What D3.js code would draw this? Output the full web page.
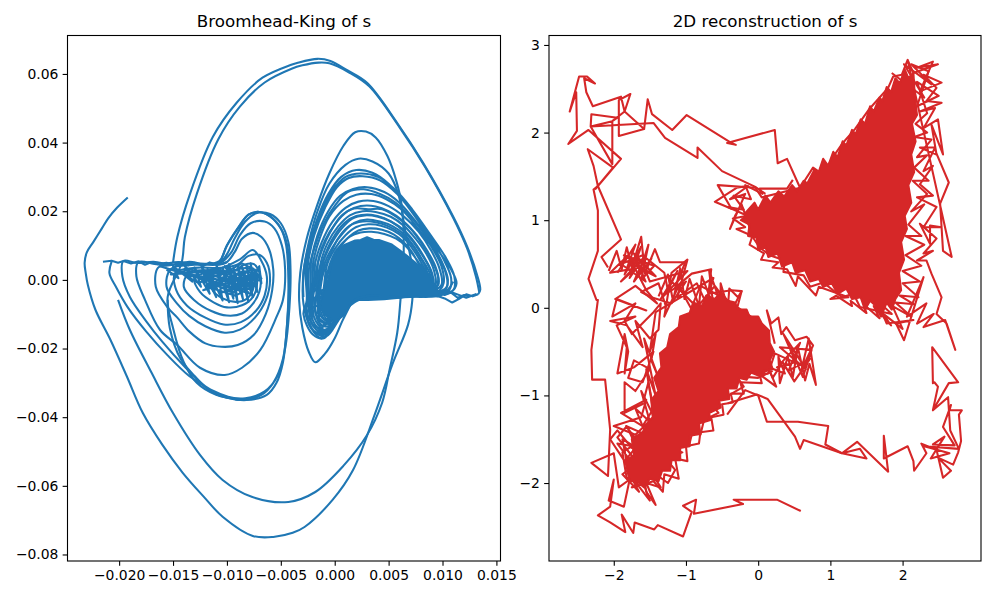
<!DOCTYPE html>
<html lang="en">
<head>
<meta charset="UTF-8" />
<title>Broomhead-King and 2D reconstruction of s</title>
<script src="https://d3js.org/d3.v7.min.js"></script>
<style>
  html, body { margin: 0; background: #fff; }
  text { font-family: "DejaVu Sans", sans-serif; fill: #000; }
  .tick text { font-size: 13.9px; }
  .tick line, .domain { stroke: #000; stroke-width: 1.1px; }
  .title { font-size: 16.7px; text-anchor: middle; }
  .frame { fill: none; stroke: #000; stroke-width: 1.1px; }
  .trace { fill: none; stroke-width: 2.08px; stroke-linejoin: round; }
</style>
</head>
<body>
<svg id="fig" width="1000" height="600"></svg>
<script>
// left panel values are in thousandths
const bkXTicks = [-20, -15, -10, -5, 0, 5, 10, 15];
const bkYTicks = [60, 40, 20, 0, -20, -40, -60, -80];
const recXTicks = [-2, -1, 0, 1, 2];
const recYTicks = [3, 2, 1, 0, -1, -2];

const bkOuter = [[-19.2,24],[-20.2,21],[-21,18],[-21.6,15],[-22.4,11],[-23,8],[-23.2,5],[-23.1,2],[-22.9,-1.5],[-22.2,-8.7],[-20.8,-17.5],[-19.3,-28],[-17.8,-38.8],[-16,-48],[-14.1,-56.2],[-12.2,-63],[-10.4,-69],[-7.6,-74.6],[-5.7,-74.9],[-3.9,-73.7],[-2.8,-72],[-.2,-64.1],[1.7,-55.4],[3.7,-39.3],[5.4,-24.2],[6.8,-13.1],[7.2,-5.8],[7.2,3],[6.5,15],[5.9,25],[5,31],[3.5,34.5],[2.2,35.3],[1,33.5],[-.5,28],[-1.6,20],[-2.4,11],[-2.9,2],[-2.9,-7],[-2.2,-14],[-1.2,-17],[-.2,-14],[1,-8],[2,-5.4],[4,-4.6],[7,-4.4],[9,-4],[10.4,-3],[11,-.5]];
const bkSecond = [[-20.1,-5.8],[-19,-14.6],[-17,-27],[-15,-38.8],[-12.5,-51],[-10.4,-58.3],[-7.7,-63.2],[-4.3,-64.7],[-1.8,-61.8],[.8,-54.2],[3,-45.2],[4.4,-35.8],[5.1,-26],[5.8,-15.4],[6.1,-5.8],[6.4,8],[6.2,22],[5.7,29],[4.9,36],[3.8,41.5],[2.9,43.2],[1.9,43],[.8,39],[-.5,31],[-1.6,22],[-2.6,12],[-3.2,2],[-3.3,-6],[-3,-14],[-2.4,-21],[-1.8,-24],[-.9,-21.5],[0,-17],[.7,-12],[1.5,-7]];
const bkTopArc = [[-15,5],[-14.6,12.5],[-13.4,25.3],[-11.3,41.7],[-9.1,51.6],[-6.7,58.9],[-4.1,62.6],[-3.5,63.2],[-1.6,64.4],[-.4,63.8],[1.2,61],[3,57.4],[5.8,45.7],[8.2,34.1],[11,18.4],[12.3,9.6],[13.2,1.5],[13.5,-2.9],[13.3,-4.2]];
const bkTopArc2 = [[-8.7,-35],[-11,-33.5],[-12.8,-30],[-14,-24],[-15,-14],[-15.5,-5],[-14.2,5],[-13.9,12.5],[-12.8,25],[-10.8,41],[-8.8,50.5],[-6.5,57.5],[-4,61.5],[-3,62.5],[-1.5,63.3],[-.5,63.1],[1.3,60.5],[3.2,56.4],[6,44.5],[8.4,32.8],[11,18],[12.3,9],[13.1,1],[13.4,-3.5]];
const bkBottomArc = [[-15.5,-5.8],[-15.3,-14],[-14.3,-23],[-13,-28],[-11.5,-32.5],[-10,-34.3],[-8.2,-35],[-6.3,-33.5],[-5.4,-30],[-4.8,-24],[-4.4,-12],[-4.2,0],[-4.4,10],[-5,15],[-6,18.5],[-7,19.8],[-8,19],[-9,15],[-10,10],[-10.5,6]];
const bkBand = [[-21.5,5.3],[-20.7,5.6],[-20.1,5],[-19.6,5.5],[-18.9,4.8],[-18.2,5.4],[-17.6,4.4],[-17,5.2],[-16.4,4.6],[-15.6,5],[-15,4.4],[-14.3,5.1],[-13.6,4.2],[-13,5],[-12.2,4],[-11.6,5.1],[-10.8,4.4],[-10,5.2]];
const bkFoot = [[13.3,-4.2],[12.8,-4.8],[12.2,-4.2],[11.5,-5.6],[10.9,-6.6],[10.2,-5.4],[9.6,-4.8],[8.9,-4.3],[8.4,-5],[9.6,-3.6],[10.2,-4.4],[10.8,-3.7],[11.4,-5.2],[12,-4.4],[12.6,-4.7],[13.1,-4.2],[12.2,-5.2],[11.2,-4],[10.4,-3],[9.8,-4.7]];

const bkLeftLobe = [
  [-20.7,5.3],[-20.9,2],[-20.3,-2],[-19.2,-8],[-17.5,-15],[-15.5,-22],[-13.5,-28],[-11.5,-32],[-9.5,-34.5],[-8.7,-35],[-6.8,-33.5],[-5.7,-30],[-4.8,-23],[-4.4,-12],[-4.3,0],[-4.5,10],[-5,15],[-6,18.5],[-7,19.8],[-8,19],[-9,15],[-10,10],[-10.7,5.5],
  [-12,4.6],[-13.5,5.3],[-15,4.4],[-16.8,5.3],[-18.3,4.9],[-19.6,5.5],
  [-19.7,1],[-19,-5],[-17.5,-12],[-16,-18],[-14,-25],[-12,-31],[-10,-34],[-8.3,-34.5],[-6.5,-32.5],[-5.3,-28],[-4.6,-20],[-4.2,-8],[-4.1,3],[-4.3,11],[-5,16.5],[-6,19.2],[-7.2,19.5],[-8.3,17],[-9.3,12],[-10,7.5],[-10.7,5],
  [-12.5,4.4],[-14.5,5.2],[-16.4,4.5],[-18.2,5.2],
  [-18.4,1],[-17.6,-5.8],[-16.2,-14.6],[-14.6,-19],[-12.5,-25.6],[-10.2,-27.7],[-8.6,-25.6],[-6.9,-20.4],[-5.4,-10.8],[-4.8,-5.8],[-4.6,3],[-4.9,10],[-5.6,15],[-6.5,17],[-7.8,16.5],[-8.8,13],[-9.6,8],[-10.6,5],
  [-13,4.8],[-15.5,4.2],[-16.4,3.5],
  [-16.6,-2],[-15.5,-8],[-14.6,-11],[-13.5,-15],[-12,-18.5],[-10.5,-19.5],[-9,-19],[-7.5,-16],[-6.4,-10],[-5.8,-3],[-5.7,3],[-6.1,9],[-6.8,12.5],[-7.6,13.7],[-8.6,12],[-9.3,8],[-10.2,4.8],
  [-13,4.4],[-15.2,3.2],[-15.6,-2],[-14.6,-7],[-13.5,-10.5],[-12,-13.5],[-10.2,-15.4],[-8.8,-14.5],[-7.4,-11],[-6.4,-6],[-6,0],[-6.3,5],[-7,7.3],[-8,7],[-9,4.5],[-10.6,3.5],
  [-13,3.5],[-14.8,2],[-14.7,-3],[-13.7,-7.5],[-12,-11],[-10.3,-13],[-8.7,-12.3],[-7.3,-9],[-6.5,-4.5],[-6.3,1],[-6.8,5.5],[-7.6,8.7],[-8.8,6],
  [-11,3],[-13.5,2.2],[-14,-2],[-13,-6],[-11.5,-9],[-10,-10.4],[-8.6,-9.8],[-7.6,-7],[-7,-3.5],[-6.9,1],[-7.5,4.6],[-8.4,4.4],[-9.4,2.6],
  [-11.5,2.4],[-13,.5],[-12.5,-3.5],[-11.2,-6.6],[-10,-8],[-8.6,-7.4],[-7.6,-5],[-7.2,-1],[-7.5,2.8],[-8.5,3.4],[-10,2],
  [-11.4,.6],[-11.4,-2.6],[-10.4,-5.4],[-9.2,-6.4],[-8.2,-5.6],[-7.6,-3],[-7.5,.5],[-8,2.4],[-9,2]
];
const bkLeftCore = [[-15.6,3],[-14.5,.5],[-15,4],[-13.2,-.5],[-14,4.6],[-12.4,-2],[-13,3.6],[-11.6,-4],[-12.4,4.4],[-11,-5],[-11.8,3.2],[-10.4,-6],[-11,4.6],[-9.8,-6.5],[-10.4,3.6],[-9.4,-5.5],[-9.8,4.6],[-9,-6.8],[-9.4,3.6],[-8.5,-5.8],[-9,4.4],[-8,-6.4],[-8.6,3.8],[-7.6,-5],[-8.2,4.2],[-7.6,-2.5],[-7.8,4.8],[-7.2,-3.5],[-7.4,3],[-6.8,-1],[-7,4],[-8.4,-3.5],[-10.6,3],[-12.6,-1],[-14.5,2.6],[-12,.5],[-9.5,-2.5],[-7.8,.5],[-10.5,-3.8],[-13,1.4],[-9.6,-.6],[-11.4,1.5],[-8.8,-1.5],[-7.4,1.8],[-10,-1],[-12.2,-3],[-9.4,1],[-7.9,-4],[-16.2,4],[-14,1.8],[-11.2,3],[-9,-.4],[-7.2,2.6],[-8.6,4.8],[-10.8,1],[-13.4,3],[-15.2,1.6],[-12.8,2.2],[-10.2,2.6],[-8.2,1.2],[-9.4,-3.8],[-11.4,-1],[-8.6,-2.8],[-6.8,.4],[-7.6,3.4],[-10.2,-2.2],[-8,-1],[-9.8,1.8],[-11.8,-2],[-9.2,-4.6],[-7.4,-1.6],[-9,2.8],[-12,1.6],[-10.6,-.4],[-8.4,.2],[-10.2,4],[-8.8,-3.4],[-7,1.4]];

const bkRightLobe = [
  [-2.9,-5],[-2.9,2],[-2.4,10],[-1.6,18],[-.6,25],[.6,30],[2,32],[3.5,31.2],[5,28],[6.5,22.5],[8,16],[9.5,9],[10.8,3],[11.3,-1],[10.8,-3.5],[9.5,-4.5],[7,-5],[4,-5],[2,-5.5],[1,-8],[0,-13],[-1,-17],[-2,-16],[-2.9,-10],
  [-2.6,-6],[-2.7,3],[-2.2,11],[-1.3,19],[-.2,26],[1,30],[2.4,31],[4,30],[5.6,26.3],[7.2,20.5],[8.8,13.5],[10.3,6.5],[11.1,1],[11,-3],[9,-4.6],[6,-4.8],[3,-5],[1.3,-7],[.3,-12],[-.8,-16.5],[-1.9,-15],[-2.7,-9],
  [-2.5,-5],[-2.5,4],[-1.9,13],[-.9,21],[.2,27],[1.3,29.7],[2.6,30.2],[4.2,29],[5.8,25],[7.3,19.5],[8.8,13],[10.1,6],[10.8,.5],[10.6,-3],[8,-4.4],[5,-5],[2.5,-5],[1,-8],[0,-13],[-1,-16],[-2.2,-14],[-2.6,-8],
  [-2.3,-4],[-2.2,5],[-1.6,13],[-.6,20],[.5,24.5],[1.7,26.5],[3,27],[4.6,25.6],[6,22.5],[7.4,17.5],[8.8,11.5],[9.9,5.5],[10.5,0],[10.2,-3],[8,-4.2],[5.5,-4.6],[2.8,-5],[1.2,-7.5],[.1,-12],[-.9,-15.6],[-2,-13.5],[-2.4,-7],
  [-2.1,-3],[-2,5],[-1.4,12],[-.5,18.5],[.8,23],[2,24.8],[3.4,25],[4.8,23.5],[6.2,20.5],[7.6,15.5],[8.9,10],[9.9,4],[10.1,-1],[9.5,-3.6],[7,-4.6],[4,-4.8],[2,-6],[.9,-9],[-.2,-14],[-1.1,-15],[-2,-12],[-2.2,-6],
  [-1.9,-2],[-1.8,5],[-1.2,11],[-.2,17],[1,21],[2.2,22.8],[3.6,23],[5,21.5],[6.4,18.5],[7.8,14],[8.9,8.8],[9.7,3.5],[9.9,-1.5],[8.6,-3.8],[5,-4.6],[2.5,-5.4],[1,-8.6],[-.1,-13],[-1,-14.5],[-1.9,-11],[-2,-5],
  [-1.7,0],[-1.5,6],[-.9,11.5],[.1,16.5],[1.2,20],[2.4,21.5],[3.8,21.4],[5,20],[6.4,17],[7.6,13],[8.6,8.4],[9.4,3.4],[9.6,-1.5],[8,-3.6],[4.5,-4.4],[2.2,-5.6],[.8,-9],[-.2,-13],[-1.1,-13.4],[-1.8,-9.5],
  [-1.6,-2],[-1.3,5],[-.7,10.5],[.3,15.5],[1.4,18.8],[2.6,20],[3.8,19.8],[5.2,18.4],[6.4,15.8],[7.5,12],[8.5,7.6],[9.2,2.8],[9.3,-2],[7,-4],[3.5,-4.4],[1.8,-6],[.6,-10],[-.4,-12.8],[-1.3,-12],[-1.6,-7],
  [-1.4,-1],[-1.1,5],[-.4,10],[.6,14.8],[1.6,17.8],[2.8,18.8],[4,18.4],[5.2,17],[6.4,14.5],[7.4,11],[8.3,6.6],[9,2.2],[9.1,-2.4],[6,-4.2],[3,-4.6],[1.6,-7],[.5,-10.5],[-.5,-12],[-1.3,-10.5],[-1.4,-5],
  [-1.2,0],[-.9,5],[-.2,9.5],[.8,13.8],[1.8,16.6],[3,17.6],[4.2,17],[5.4,15.6],[6.4,13.4],[7.3,10],[8.1,6],[8.8,2],[8.9,-2.8],[5,-4],[2.4,-4.4],[1.2,-7.5],[.2,-11],[-.7,-11.5],[-1.2,-8],
  [-1,-2],[-.7,4.5],[0,9],[1,13],[2,15.4],[3.1,16.2],[4.3,15.8],[5.4,14.4],[6.4,12.2],[7.2,9.2],[8,5.2],[8.6,1.2],[8.7,-3],[4,-4],[2,-4.8],[.9,-8],[0,-10.6],[-.9,-10],[-1,-5],
  [-.8,0],[-.4,5],[.2,8.8],[1.2,12.2],[2.2,14.4],[3.2,15],[4.4,14.6],[5.5,13.2],[6.4,11],[7.1,8.4],[7.8,4.6],[8.4,.8],[8.5,-3.2],[3,-3.8],[1.2,-5.5],[.2,-9],[-.6,-9.5],[-.8,-3],
  [-.7,1],[-.2,6],[.5,9.6],[1.4,12.6],[2.4,13.8],[3.4,14],[4.6,13.4],[5.7,12],[6.6,9.8],[7.3,7.2],[8,4],[8.6,.2],[8.8,-3.4],[3.5,-4],[1.5,-6],[.4,-9.6],[-.5,-10.2],[-1.2,-6]
];
const bkRightExtra = [[-2.4,-4],[-2.4,3],[-1.8,10],[-1,16.5],[.1,22],[1.2,25.6],[2.7,26.4],[4.2,25],[5.6,22.6],[7,18.5],[8.4,13],[9.6,7],[10.3,2],[10.4,-2],[9,-4],
  [-1.8,-3],[-1.7,3],[-1.2,8.5],[-.4,14],[.6,18.6],[1.8,20.8],[3.1,20.6],[4.4,20.6],[5.8,18.2],[7,15],[8.1,10.4],[9.1,5],[9.6,.4],[9.2,-3.4],[6,-4.6],
  [-1.5,-5],[-1.5,1],[-1,6.5],[-.2,12],[.9,16.6],[2,18.6],[3.4,19],[4.6,18],[5.9,15.6],[7,12.2],[8,7.8],[8.8,3.4],[9.1,-1],[8,-4],
  [-1.3,-4],[-1,2.5],[-.4,7.5],[.4,12.5],[1.4,15.8],[2.6,17],[3.8,16.8],[5,15.6],[6,13.8],[7,10.8],[7.9,6.8],[8.5,3],[8.7,-1.6],[7.2,-4],
  [-2.5,-9],[-1.6,-14],[-.8,-13],[.2,-7],[-1.8,-5],[-1.2,-13.4],[-.3,-10],[.8,-6],[-1.4,-4],[-.9,-11.6],[0,-8],[-1.7,-10],[-.6,-12.6],[.5,-7.4],[-1.2,-3],[-.2,-11.8]];
const bkRightMass = [[-.6,0],[-.3,5.2],[.3,8.7],[.8,10],[1.4,10.8],[1.9,11.5],[2.4,11.6],[3,12.4],[3.6,11.7],[4.1,11.6],[4.7,11],[5.3,10.3],[6,8.7],[6.7,7],[7.4,5.2],[8.2,3],[8.8,1.5],[9.1,-.6],[9.5,-2.9],[9.8,-4.7],[9,-4.9],[7.9,-5],[7,-4.6],[6,-5.2],[5,-4.7],[4.2,-4.7],[3.2,-4.5],[2.3,-5.2],[1.8,-6],[1.4,-7.3],[.9,-10.2],[0,-12.2],[-.9,-10.2],[-1.4,-7.3],[-1,-2.9]];

const recOuter = [[.59,-2.32],[.26,-2.19],[-.34,-2.19],[-.21,-2.24],[-.89,-2.35],[-.86,-2.19],[-1.04,-2.26],[-.92,-2.33],[-1.04,-2.61],[-1.39,-2.48],[-1.44,-2.53],[-1.71,-2.45],[-1.73,-2.57],[-1.89,-2.36],[-1.84,-2.56],[-2.05,-2.45],[-2.22,-2.37],[-2.05,-2.27],[-2,-1.96],[-2.07,-2.2],[-1.86,-2.27],[-1.78,-1.96],[-1.93,-2.05],[-2,-1.66],[-2.31,-1.77],[-2.08,-1.92],[-2.05,-1.39],[-2.12,-.82],[-2.3,-.82],[-2.31,-.48],[-2.22,.09],[-2.24,.09],[-2.35,.33],[-2.22,.65],[-2.22,1.11],[-2.28,1.35],[-2.22,1.39],[-1.9,.78],[-2.17,.58],[-2.08,.46]];
const recTopLeft = [[-2.26,1.35],[-2.01,1.6],[-2.36,1.81],[-2.28,1.62],[-2.22,1.39],[-1.9,1.7],[-2.35,2.03],[-2.63,1.87],[-2.51,2.02],[-2.52,2.46],[-2.61,2.24],[-2.48,2.64],[-2.37,2.64],[-2.26,2.56],[-2.41,2.62],[-2.38,2.46],[-2.29,2.3],[-1.9,2.41],[-1.85,2.24],[-1.77,2.44],[-1.93,2.37],[-1.93,1.96],[-1.58,2.04],[-1.85,2.24],[-2.02,2.13],[-2.32,2.07],[-2.31,2.21],[-1.95,2.17],[-2.02,2.13],[-2.02,1.64],[-2.32,2.07],[-1.45,2.11],[-1.29,1.94],[-.84,1.71],[-.84,1.83],[-.5,1.56],[-.04,1.38],[.1,1.3]];
const recTopRun = [[.58,1.37],[.4,1.7],[.27,1.65],[.23,2.03],[-.43,1.88],[-.31,1.86],[-.39,1.89],[-.99,2.2],[-1.19,2.03],[-1.47,2.21],[-1.53,2.38],[-1.58,2.04]];
const recRightRun = [[-.43,-1.22],[-.18,-.94],[0,-1],[.12,-1.3],[.55,-1.3],[.97,-1.35],[.93,-1.56],[1.16,-1.66],[1.41,-1.61],[1.5,-1.72],[1.16,-1.66],[1.37,-1.53],[1.8,-1.87],[1.74,-1.46],[1.74,-1.72],[2.07,-1.58],[2.15,-1.75],[2.16,-1.86],[2.33,-1.66],[2.26,-1.55],[2.47,-1.62],[2.56,-1.94],[2.67,-1.86],[2.49,-1.71],[2.7,-1.79],[2.77,-1.65],[2.81,-1.52],[2.78,-1.22],[2.82,-1.17],[2.65,-1.17],[2.67,-1.11],[2.56,-1.36],[2.72,-1.57],[2.42,-1.56],[2.58,-1.47],[2.39,-1.72],[2.65,-1.66],[2.3,-1.58],[2.78,-1.61],[2.66,-1.4],[2.63,-1.02],[2.42,-1.17],[2.49,-.9],[2.44,-.85],[2.42,-.86],[2.41,-.45],[2.77,-.85],[2.64,-.86],[2.42,-1.17]];
const recLowerRun = [[-.42,-1.09],[-.02,-.99],[.13,-1.04],[.51,-1.47],[.58,-1.61],[.63,-1.51],[1.16,-1.66]];

const recUpperMass = [[-.18,1.08],[-.05,1.2],[0,1.12],[.1,1.28],[.17,1.2],[.28,1.33],[.36,1.27],[.47,1.4],[.54,1.33],[.63,1.45],[.68,1.42],[.78,1.58],[.83,1.53],[.9,1.7],[.97,1.62],[1.04,1.78],[1.1,1.72],[1.17,1.9],[1.22,1.85],[1.3,2.03],[1.35,1.98],[1.42,2.15],[1.48,2.1],[1.55,2.3],[1.6,2.24],[1.68,2.4],[1.72,2.36],[1.78,2.52],[1.84,2.46],[1.9,2.62],[1.96,2.56],[2.03,2.72],[2.08,2.62],[2.15,2.68],[2.17,2.4],[2.2,2.2],[2.13,2.1],[2.18,1.9],[2.12,1.75],[2.16,1.55],[2.08,1.4],[2.12,1.2],[2.03,1.05],[2.06,.9],[1.98,.75],[2.02,.55],[1.95,.4],[1.98,.2],[1.9,.1],[1.85,-.02],[1.78,.06],[1.7,-.1],[1.62,.03],[1.55,.08],[1.48,-.02],[1.42,.12],[1.3,.1],[1.22,.22],[1.1,.16],[1.02,.28],[.9,.24],[.84,.33],[.72,.3],[.65,.43],[.52,.4],[.47,.52],[.33,.47],[.27,.62],[.14,.58],[.1,.7],[0,.66],[-.02,.8],[-.14,.82],[-.12,.95],[-.24,1],[-.16,1.06]];
const recUpperFringe = [[2.07,2.83],[2.15,2.68],[2.49,2.78],[2.2,2.74],[2.42,2.81],[2.24,2.47],[2.54,2.57],[2.29,2.66],[2.47,2.51],[2.33,2.36],[2.54,2.34],[2.24,2.24],[2.45,2.28],[2.29,2.05],[2.49,2.15],[2.56,1.75],[2.4,2.09],[2.47,1.75],[2.24,1.83],[2.45,1.83],[2.29,1.56],[2.42,1.62],[2.24,1.41],[2.42,1.28],[2.2,1.26],[2.47,1.15],[2.29,.92],[2.54,.92],[2.38,.94],[2.38,.73],[2.24,.96],[2.47,.79],[2.29,.62],[2.42,.65],[2.2,.54],[2.33,.54],[2.4,.39],[2.54,.12],[2.47,-.07],[2.61,-.18],[2.73,-.48],[2.59,-.14],[2.29,-.22],[2.43,-.07],[2.2,-.18],[2.33,.05],[2.06,-.1],[2.29,.35],[2.02,-.37],[1.91,-.18],[2.15,-.14],[1.78,-.18],[1.64,.09],[1.85,-.07],[1.41,.01],[1.32,.16],[1.16,.12],[.9,.29],[.72,.24],[.63,.37],[.35,.41],[.37,.54],[.16,.6],[.02,.69],[-.07,.8],[-.23,1.18],[-.32,1.05],[-.39,.9],[-.3,1.07],[-.18,1.3],[-.39,1.24],[-.14,1.39],[-.3,1.37],[-.6,1.21],[-.37,1.13],[-.56,1.4],[-.04,1.37],[.05,1.26],[.58,1.37],[.76,1.6],[.9,1.52],[1.02,1.7],[1.16,1.87],[1.34,2.04],[1.53,2.26],[1.66,2.38],[1.8,2.51],[1.87,2.64],[1.99,2.66],[2.07,2.83],[2.68,.58],[2.56,.65],[2.52,1.19],[2.64,1.43],[2.47,1.76]];
const recUpperFringe2 = [[1.85,2.68],[2.3,2.4],[2.02,2.78],[2.4,2.55],[2.12,2.78],[2.36,2.7],[2.2,2.3],[2.5,2.42],[2.2,2.58],[2.34,2.22],[2.18,2.1],[2.34,2],[2.16,1.95],[2.4,1.92],[2.2,1.72],[2.34,1.74],[2.16,1.6],[2.36,1.45],[2.14,1.45],[2.34,1.3],[2.12,1.1],[2.3,1.18],[2.08,.95],[2.26,.82],[2.04,.82],[2.3,.72],[2.04,.6],[2.26,.48],[2,.42],[2.24,.3],[2,.28],[2.22,.12],[1.96,.14],[2.16,.04],[1.9,.06],[2.12,-.1],[1.86,.02],[2,-.24],[1.72,-.06],[1.84,-.2],[1.6,.02],[1.68,-.12],[1.46,.04],[1.5,-.06],[1.28,.08],[1.3,.02],[1.08,.14],[1,.1],[1.25,.12],[.84,.24],[.8,.14],[.55,.36],[.52,.25],[.4,.44],[.2,.46],[.28,.52],[.04,.55],[.08,.62],[-.12,.72],[-.08,.82],[-.3,.9],[-.18,.92],[-.35,1.02],[-.15,1.05],[-.42,1.15],[-.2,1.12],[-.34,1.28],[-.1,1.24],[-.18,1.4],[.06,1.3],[.02,1.36],[.22,1.36],[.4,1.36],[.48,1.46]];
const recLowerMass = [[-1.78,-1.98],[-1.84,-1.75],[-1.72,-1.68],[-1.75,-1.5],[-1.6,-1.42],[-1.52,-1.3],[-1.46,-1.25],[-1.48,-1.05],[-1.38,-.95],[-1.44,-.8],[-1.34,-.68],[-1.36,-.52],[-1.26,-.45],[-1.22,-.3],[-1.1,-.22],[-1.08,-.1],[-.95,-.06],[-.9,.06],[-.78,.02],[-.72,.14],[-.6,.1],[-.52,.18],[-.42,.08],[-.32,.06],[-.28,-.02],[-.16,-.02],[-.12,-.1],[0,-.1],[.05,-.18],[.15,-.26],[.16,-.4],[.22,-.5],[.16,-.6],[.2,-.7],[.08,-.72],[.02,-.78],[-.1,-.74],[-.16,-.82],[-.26,-.8],[-.3,-.92],[-.42,-.92],[-.4,-1.04],[-.54,-1.06],[-.52,-1.14],[-.68,-1.2],[-.66,-1.28],[-.82,-1.32],[-.8,-1.44],[-.95,-1.46],[-.95,-1.58],[-1.08,-1.6],[-1.08,-1.74],[-1.2,-1.74],[-1.22,-1.86],[-1.33,-1.86],[-1.38,-1.98],[-1.5,-1.95],[-1.58,-2.05],[-1.68,-1.98]];
const recLowerTail = [[.23,-.41],[.12,-.03],[.18,-.18],[.28,-.11],[.32,-.3],[.39,-.22],[.51,-.37],[.67,-.33],[.76,-.43],[.6,-.71],[.7,-.35],[.8,-.88],[.71,-.64],[.65,-.83],[.55,-.45],[.48,-.79],[.41,-.56],[.3,-.86],[.28,-.56],[.37,-.75],[.18,-.69],[0,-.77],[.14,-.75],[.23,-.52],[.55,-.64],[.46,-.48],[.62,-.79],[.74,-.48],[.3,-.45],[.66,-.7],[.35,-.3],[.52,-.62],[.26,-.68],[.58,-.4],[.42,-.72],[.72,-.58],[.5,-.84],[.34,-.62],[.2,-.8],[.1,-.62]];
const recLowerFringe = [[-2.07,.42],[-1.96,.65],[-1.89,.44],[-1.82,.69],[-1.75,.46],[-1.62,.81],[-1.57,.39],[-1.43,.67],[-1.36,.52],[-1.01,.52],[-1.15,.23],[-.92,.39],[-.65,.44],[-.69,.16],[-.37,.2],[-.23,.19],[-.3,-.03],[-.1,-.1],[-.45,.1],[-.8,.25],[-.9,.05],[-1.2,.3],[-1.35,.1],[-.98,.42],[-1.5,.3],[-1.62,.55],[-1.9,.3],[-1.7,.45],[-2.05,.4],[-1.8,.6],[-1.55,.2],[-1.4,.05],[-1.7,.25],[-1.98,.1],[-1.55,-.03],[-1.96,.1],[-2.02,-.1],[-1.7,.05],[-1.85,-.15],[-1.75,-.3],[-1.45,-.05],[-1.35,.05],[-1.38,-.25],[-1.5,-.35],[-1.7,-.15],[-1.6,-.45],[-1.82,-.2],[-2.05,-.15],[-1.7,-.1],[-1.96,-.2],[-1.82,-.45],[-1.85,-.75],[-1.8,-.5],[-1.85,-.3],[-1.95,-.75],[-1.72,-.68],[-1.45,-.5],[-1.6,-.85],[-1.8,-.8],[-1.72,-.6],[-1.5,-.7],[-1.7,-.95],[-1.85,-.85],[-1.85,-1.2],[-1.6,-1.1],[-1.52,-.85],[-1.45,-1.15],[-1.6,-1.35],[-1.9,-1.2],[-1.55,-1.05],[-1.62,-1.25],[-2,-1.35],[-1.7,-1.45],[-1.45,-1.25],[-1.75,-1.6],[-1.95,-1.4],[-2.05,-1.5],[-1.85,-1.75],[-1.6,-1.5],[-1.88,-1.65],[-1.82,-1.95],[-1.6,-1.85],[-1.55,-2.1],[-1.42,-2.25],[-1.55,-2],[-1.35,-2.05],[-1.5,-1.85],[-1.25,-2],[-1.15,-1.85],[-1.28,-1.72],[-1.05,-1.65],[-1.15,-1.62],[-.95,-1.55],[-.9,-1.38],[-.8,-1.45],[-.75,-1.28],[-.55,-1.2],[-.65,-1.1],[-.45,-1.02],[-.2,-.9],[-.3,-.78],[0,-.8],[.2,-.72]];
const recLowerFringe2 = [[-1.38,.13],[-1.25,.38],[-1.18,.08],[-1.08,.45],[-1.02,.1],[-.95,.33],[-.82,.02],[-.78,.36],[-.62,.02],[-.68,.43],[-.52,.05],[-.52,.28],[-.42,0],[-.4,.22],[-.28,.12],[-.23,.19],[-.36,-.02],[-.6,.25],[-.9,-.05],[-1.1,.25],[-1.3,-.1],[-1.2,.4],[-.98,.55],[-1.12,.12],[-.85,.28],[-.72,.05],[-.62,.34],[-1.42,-.05],[-1.5,-.5],[-1.42,-.3],[-1.48,-.6],[-1.38,-.8],[-1.58,-.35],[-1.42,-1],[-1.55,-.7],[-1.44,-1.25],[-1.62,-.95],[-1.5,-1.3],[-1.7,-1.15],[-1.55,-1.45],[-1.83,-1.35],[-1.6,-1.6],[-1.95,-1.55],[-1.72,-1.8],[-1.88,-1.9],[-1.65,-2.1],[-1.78,-1.9],[-1.5,-2.2],[-1.72,-1.72],[-1.95,-1.48],[-1.82,-1.35],[-1.68,-1.6],[-1.88,-1.5],[-1.8,-1.85],[-1.6,-1.95],[-1.75,-2.05],[-1.45,-1.98],[-1.32,-2.1],[-1.3,-1.9],[-1.1,-1.95],[-1.15,-1.72],[-.98,-1.75],[-1,-1.58],[-.82,-1.55],[-.8,-1.42],[-.62,-1.4],[-.65,-1.25],[-.48,-1.22],[-.5,-1.1],[-.35,-1.08],[-.38,-.98],[-.2,-.98],[-.25,-.85],[.05,-.86],[.02,-.76],[.25,-.9],[.16,-.72]];
const recLowerCluster = [[-1.95,.4],[-1.7,.72],[-1.85,.38],[-1.62,.7],[-1.78,.34],[-1.55,.62],[-1.72,.3],[-1.48,.56],[-1.66,.36],[-1.52,.72],[-1.62,.32],[-1.44,.48],[-1.86,.6],[-1.5,.4],[-1.8,.52],[-1.42,.36],[-1.72,.62],[-1.56,.3],[-1.9,.5],[-1.6,.6],[-1.3,.4],[-1.25,.2],[-1.12,.42],[-1.3,.15],[-1,.3],[-1.2,.05],[-1.48,.12],[-1.62,.18],[-1.38,.28],[-1.28,.02]];

const svg = d3.select("#fig");

function panel(left, right, xDom, yDom, xTicks, yTicks, xFmt, yFmt, name) {
  const top = 35.5, bottom = 561;
  const x = d3.scaleLinear().domain(xDom).range([left, right]);
  const y = d3.scaleLinear().domain(yDom).range([bottom, top]);
  const g = svg.append("g");
  const xa = g.append("g").attr("transform", `translate(0,${bottom})`)
    .call(d3.axisBottom(x).tickValues(xTicks).tickFormat(xFmt).tickSize(4.86).tickPadding(4.6));
  const ya = g.append("g").attr("transform", `translate(${left},0)`)
    .call(d3.axisLeft(y).tickValues(yTicks).tickFormat(yFmt).tickSize(4.86).tickPadding(4.2));
  xa.select(".domain").remove();
  ya.select(".domain").remove();
  g.append("text").attr("class", "title").attr("x", (left + right) / 2).attr("y", 27).text(name);
  const straight = d3.line().x(d => x(d[0])).y(d => y(d[1]));
  const smooth = d3.line().x(d => x(d[0])).y(d => y(d[1])).curve(d3.curveCatmullRom.alpha(0.5));
  return {
    trace(pts, color, opts = {}) {
      const line = opts.smooth ? smooth : straight;
      g.append("path").attr("class", "trace").attr("d", line(pts) + (opts.filled ? "Z" : ""))
        .attr("stroke", color).style("fill", opts.filled ? color : "none");
    },
    frame() {
      g.append("rect").attr("class", "frame").attr("x", left).attr("y", top)
        .attr("width", right - left).attr("height", bottom - top);
    }
  };
}

const minus = s => s.replace("-", "\u2212");
const blue = "#1f77b4", red = "#d62728";

const left = panel(67.5, 500.5, [-24.79, 15.38], [-81.9, 71.2], bkXTicks, bkYTicks,
  d => minus((d / 1000).toFixed(3)), d => minus((d / 1000).toFixed(2)), "Broomhead-King of s");
[bkOuter, bkSecond, bkTopArc, bkTopArc2, bkBottomArc, bkLeftLobe, bkRightLobe, bkRightExtra].forEach(s => left.trace(s, blue, { smooth: true }));
[bkBand, bkFoot, bkLeftCore].forEach(s => left.trace(s, blue));
left.trace(bkRightMass, blue, { filled: true });
left.frame();

const right = panel(549, 981, [-2.897, 3.086], [-2.89, 3.108], recXTicks, recYTicks,
  d => minus(String(d)), d => minus(String(d)), "2D reconstruction of s");
[recOuter, recTopLeft, recTopRun, recRightRun, recLowerRun, recUpperFringe, recUpperFringe2, recLowerTail, recLowerFringe, recLowerFringe2, recLowerCluster].forEach(s => right.trace(s, red));
right.trace(recUpperMass, red, { filled: true });
right.trace(recLowerMass, red, { filled: true });
right.frame();
</script>
</body>
</html>
